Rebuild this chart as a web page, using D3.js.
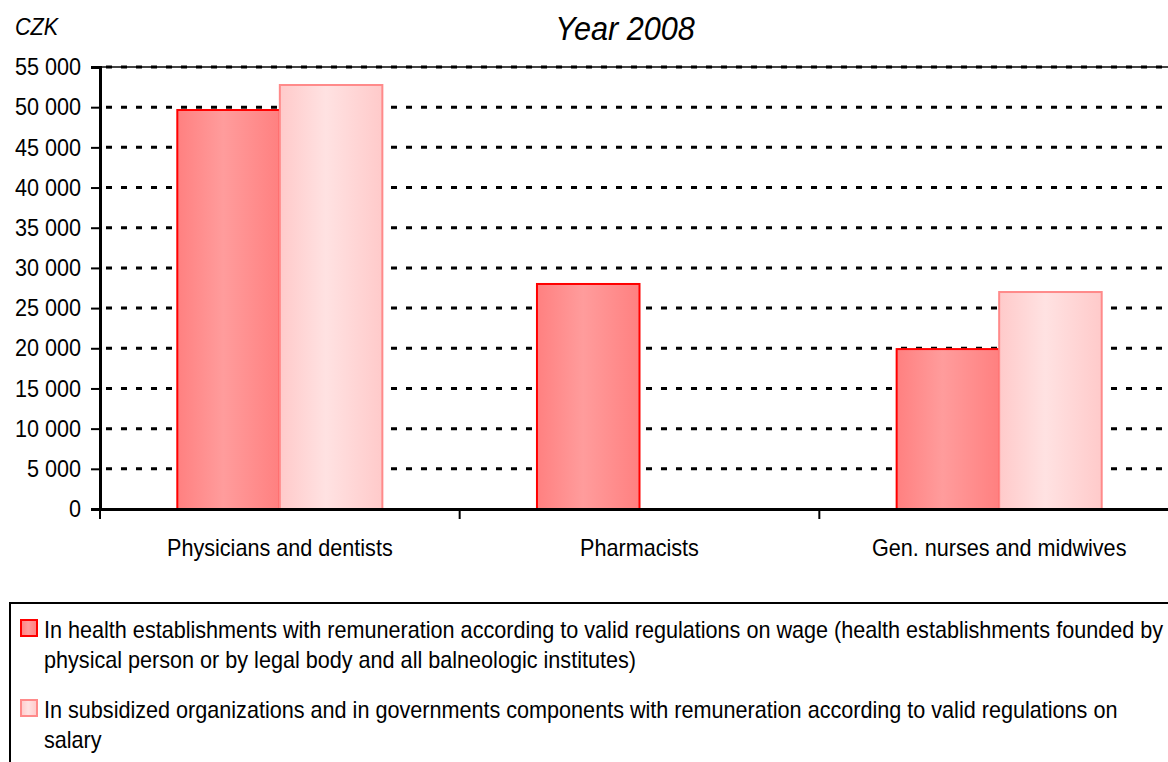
<!DOCTYPE html>
<html>
<head>
<meta charset="utf-8">
<title>Year 2008</title>
<script src="https://d3js.org/d3.v7.min.js"></script>
<style>
  body { margin: 0; background: #fff; }
  text { font-family: "Liberation Sans", Arial, sans-serif; fill: #000; }
</style>
</head>
<body>
<svg id="chart" width="1168" height="762"></svg>
<script>
// data
var categories = ["Physicians and dentists", "Pharmacists", "Gen. nurses and midwives"]
var series = ["wage", "salary"]
var wageValues = [49650, 28000, 19900]
var salaryValues = [52760, null, 27000]
var yTicks = [0, 5000, 10000, 15000, 20000, 25000, 30000, 35000, 40000, 45000, 50000, 55000]
var legendLines = [
  ["In health establishments with remuneration according to valid regulations on wage (health establishments founded by",
   "physical person or by legal body and all balneologic institutes)"],
  ["In subsidized organizations and in governments components with remuneration according to valid regulations on",
   "salary"]
]

var svg = d3.select("#chart")

// plot area (runs past the right edge of the window, as in the original)
var plotLeft = 100, plotRight = 1179, plotTop = 67, plotBottom = 509

var x = d3.scaleBand().domain(categories).range([plotLeft, plotRight])
var xInner = d3.scaleBand().domain(series).range([0, x.bandwidth()]).paddingOuter(0.754)
var y = d3.scaleLinear().domain([0, 55000]).range([plotBottom, plotTop])

var fmt = function(d) { return d3.format(",")(d).replace(/,/g, " ") }

// the original font is a bit taller and narrower than Liberation Sans
var fontSize = 24, squeeze = 0.9
function condense(sel) {
  sel.each(function() {
    var w = this.getComputedTextLength()
    d3.select(this).attr("textLength", w * squeeze).attr("lengthAdjust", "spacingAndGlyphs")
  })
}

// gradients
var defs = svg.append("defs")
function grad(id, edge, mid) {
  var g = defs.append("linearGradient").attr("id", id)
    .attr("x1", "0%").attr("x2", "100%").attr("y1", "0%").attr("y2", "0%")
  g.append("stop").attr("offset", "0%").attr("stop-color", edge)
  g.append("stop").attr("offset", "45%").attr("stop-color", mid)
  g.append("stop").attr("offset", "100%").attr("stop-color", edge)
}
grad("gWage", "#ff8080", "#ff9c9c")
grad("gSalary", "#ffcaca", "#ffe2e2")
var fills = { wage: "url(#gWage)", salary: "url(#gSalary)" }
var strokes = { wage: "#ff0000", salary: "#ff8a8a" }

// top border of plot
svg.append("line")
  .attr("x1", plotLeft).attr("x2", 1168)
  .attr("y1", y(55000)).attr("y2", y(55000))
  .attr("stroke", "#444").attr("stroke-width", 2)

// dashed gridlines
svg.append("g").selectAll("line")
  .data(yTicks.filter(function(d) { return d > 0 }))
  .enter().append("line")
  .attr("x1", plotLeft + 6).attr("x2", 1168)
  .attr("y1", function(d) { return y(d) }).attr("y2", function(d) { return y(d) })
  .attr("stroke", "#000").attr("stroke-width", 3)
  .attr("stroke-dasharray", "6,9")

// bars
var rows = categories.map(function(c, i) {
  return { cat: c, vals: [{ s: "wage", v: wageValues[i] }, { s: "salary", v: salaryValues[i] }] }
})
var groups = svg.append("g").selectAll("g")
  .data(rows).enter().append("g")
  .attr("transform", function(d) { return "translate(" + x(d.cat) + ",0)" })
groups.selectAll("rect")
  .data(function(d) { return d.vals.filter(function(e) { return e.v != null }) })
  .enter().append("rect")
  .attr("x", function(d) { return xInner(d.s) })
  .attr("width", xInner.bandwidth())
  .attr("y", function(d) { return y(d.v) })
  .attr("height", function(d) { return plotBottom - y(d.v) })
  .attr("fill", function(d) { return fills[d.s] })
  .attr("stroke", function(d) { return strokes[d.s] })
  .attr("stroke-width", 2)

// y axis
var yAxis = svg.append("g")
  .attr("transform", "translate(" + plotLeft + ",0)")
  .call(d3.axisLeft(y).tickValues(yTicks).tickFormat(fmt).tickSize(9).tickPadding(10))
yAxis.select(".domain").attr("stroke", "#000").attr("stroke-width", 3)
yAxis.selectAll(".tick line").attr("stroke", "#000").attr("stroke-width", 2)
yAxis.selectAll(".tick text").style("font-size", fontSize + "px").attr("fill", "#000").call(condense)

// x axis
var xAxis = svg.append("g")
  .attr("transform", "translate(0," + plotBottom + ")")
  .call(d3.axisBottom(x).tickSize(0).tickPadding(30))
xAxis.select(".domain").attr("stroke", "#000").attr("stroke-width", 3)
xAxis.selectAll(".tick text").style("font-size", fontSize + "px").attr("fill", "#000").call(condense)
svg.append("g").selectAll("line")
  .data(categories).enter().append("line")
  .attr("x1", function(d) { return x(d) }).attr("x2", function(d) { return x(d) })
  .attr("y1", plotBottom).attr("y2", plotBottom + 10)
  .attr("stroke", "#000").attr("stroke-width", 2)

// title and unit
svg.append("text").attr("x", 625).attr("y", 40)
  .attr("text-anchor", "middle").style("font-size", "34px").style("font-style", "italic")
  .text("Year 2008").call(condense)
svg.append("text").attr("x", 15).attr("y", 35)
  .style("font-size", fontSize + "px").style("font-style", "italic")
  .text("CZK").call(condense)

// legend
svg.append("rect")
  .attr("x", 10).attr("y", 603).attr("width", 1200).attr("height", 200)
  .attr("fill", "none").attr("stroke", "#000").attr("stroke-width", 2)
var legendY = [620, 700]
series.forEach(function(s, i) {
  svg.append("rect")
    .attr("x", 21).attr("y", legendY[i]).attr("width", 16).attr("height", 16)
    .attr("fill", fills[s]).attr("stroke", strokes[s]).attr("stroke-width", 2)
  legendLines[i].forEach(function(line, j) {
    svg.append("text").attr("x", 44).attr("y", legendY[i] + 18 + j * 30)
      .style("font-size", fontSize + "px")
      .text(line).call(condense)
  })
})
</script>
</body>
</html>
